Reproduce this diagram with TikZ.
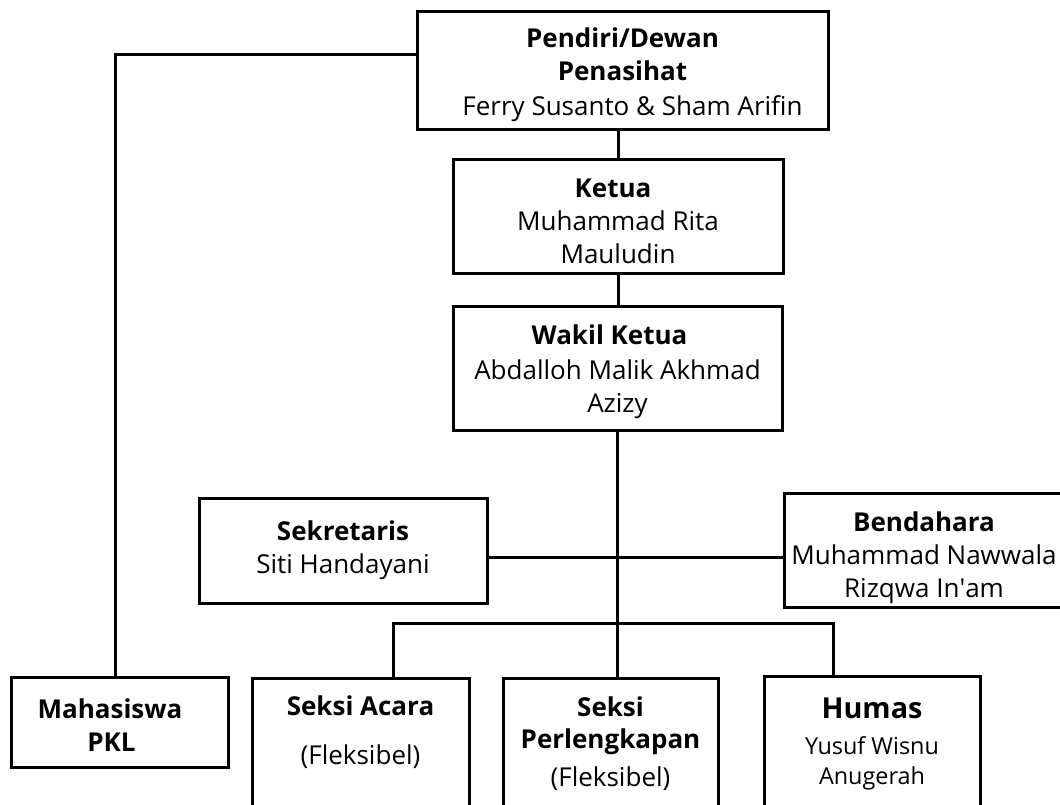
\documentclass[tikz,border=0pt]{standalone}
\usepackage{fontspec}
\setmainfont{Open Sans}
\tikzset{
  unit/.style={draw, line width=1.5pt, align=center, inner sep=2pt,
    font=\fontsize{13}{16.5}\selectfont},
  opentop/.style={draw, line width=1.5pt, anchor=north, inner sep=0pt,
    font=\fontsize{13}{16.5}\selectfont},
  link/.style={line width=1.5pt}
}
\begin{document}
\begin{tikzpicture}[x=0.5pt,y=-0.5pt]
  \useasboundingbox (0,0) rectangle (1060,804);
  \clip (0,0) rectangle (1060,804);

  %pimpinan
  \node[unit, minimum width=205.5pt, minimum height=59pt] (pendiri) at (622.5,70)
    {\rule{0pt}{15pt}\textbf{Pendiri/Dewan}\\\textbf{Penasihat}\\[1pt]\hspace*{10pt}Ferry Susanto \& Sham Arifin};
  \node[unit, minimum width=165pt, minimum height=57pt] (ketua) at (618,216)
    {\rule{0pt}{15pt}\textbf{Ketua}\rule{5pt}{0pt}\\Muhammad Rita\\Mauludin};
  \node[unit, minimum width=164.5pt, minimum height=62pt] (wakil) at (617.5,368)
    {\rule{0pt}{14pt}\textbf{Wakil Ketua}\rule{8pt}{0pt}\\[1pt]Abdalloh Malik Akhmad\\Azizy};

  %sekretaris dan bendahara
  \node[unit, minimum width=144pt, minimum height=52.5pt] (sekretaris) at (343,550.5)
    {\textbf{Sekretaris}\\Siti Handayani};
  \node[unit, minimum width=140pt, minimum height=54.5pt] (bendahara) at (924,550.5)
    {\rule{0pt}{17pt}\textbf{Bendahara}\\Muhammad Nawwala\\Rizqwa In\textquotesingle am};

  %baris bawah
  \node[unit, minimum width=108.5pt, minimum height=45pt] (mahasiswa) at (119.5,722)
    {\rule{0pt}{13pt}\textbf{Mahasiswa}\rule{9.5pt}{0pt}\\\textbf{PKL}\rule{8pt}{0pt}};
  \node[opentop] (acara) at (360.5,677)
    {\parbox[t][100pt][t]{108.5pt}{\centering\vspace*{8.8pt}%
      \textbf{Seksi Acara}\\[8pt](Fleksibel)}};
  \node[opentop] (perlengkapan) at (610.5,677)
    {\parbox[t][100pt][t]{107.5pt}{\centering\vspace*{9.3pt}%
      \textbf{Seksi}\\[-0.5pt]\textbf{Perlengkapan}\\[2.5pt](Fleksibel)}};
  \node[opentop] (humas) at (872,675)
    {\parbox[t][100pt][t]{108pt}{\centering\vspace*{10.7pt}%
      {\fontsize{14.4}{17}\selectfont\textbf{Humas}\par}\vspace{3pt}%
      {\fontsize{11.7}{15}\selectfont Yusuf Wisnu\\Anugerah\par}}};

  %garis
  \coordinate (pkl) at (115,54);
  \coordinate (hub) at (618,557);
  \coordinate (busL) at (393,623);
  \coordinate (busR) at (833,623);

  \draw[link] (pendiri.west |- pkl) -- (pkl) -- (pkl |- mahasiswa.north);
  \draw[link] (ketua.north |- pendiri.south) -- (ketua.north);
  \draw[link] (ketua.south) -- (ketua.south |- wakil.north);
  \draw[link] (wakil.south) -- (wakil.south |- perlengkapan.north);
  \draw[link] (sekretaris.east |- hub) -- (bendahara.west |- hub);
  \draw[link] (busL |- acara.north) -- (busL) -- (busR) -- (busR |- humas.north);
\end{tikzpicture}
\end{document}
